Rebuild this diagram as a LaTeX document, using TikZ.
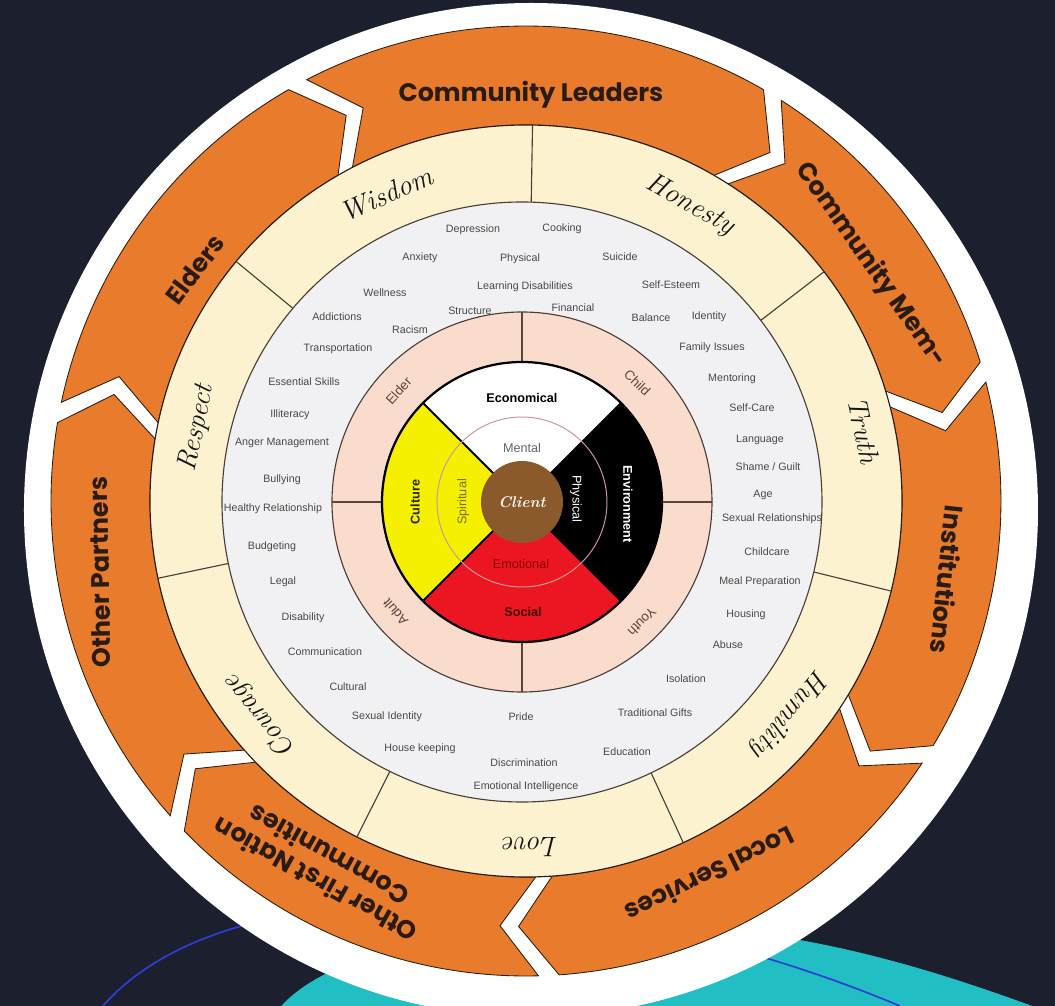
\documentclass[tikz,border=0pt]{standalone}
\usepackage{fontspec}
\setsansfont{Liberation Sans}
\newfontfamily\partnerfont{Poppins}
\usepackage{xcolor}
\usepackage{tikz}

\definecolor{navy}{HTML}{1C1F2E}
\definecolor{sea}{HTML}{21BFC3}
\definecolor{lineblue}{HTML}{2B3FD6}
\definecolor{ringorange}{HTML}{E87C2C}
\definecolor{cream}{HTML}{FCF2D0}
\definecolor{mist}{HTML}{F1F1F3}
\definecolor{peach}{HTML}{F9DCCB}
\definecolor{wheelred}{HTML}{EC1622}
\definecolor{wheelyellow}{HTML}{F5F000}
\definecolor{clientbrown}{HTML}{8B5A2C}
\definecolor{inkbrown}{HTML}{2A1C12}
\definecolor{stagebrown}{HTML}{5A4640}

\begin{document}
\begin{tikzpicture}[x=0.025cm,y=0.025cm,
  segment/.style={fill=ringorange,draw=inkbrown,line width=0.6pt},
  divider/.style={draw=inkbrown!85,line width=0.8pt},
  spoke/.style={draw=stagebrown,line width=0.9pt},
  partner/.style={font=\partnerfont\bfseries\fontsize{18}{20}\selectfont,text=inkbrown,align=center,inner sep=0pt},
  virtue/.style={font=\rmfamily\itshape\fontsize{20}{20}\selectfont,text=black!92,inner sep=0pt},
  issue/.style={font=\sffamily\fontsize{7.6}{8}\selectfont,text=black!72,inner sep=0pt},
  stage/.style={font=\sffamily\fontsize{9.5}{10}\selectfont,text=stagebrown,inner sep=0pt},
  aspect/.style={font=\sffamily\bfseries\fontsize{9}{10}\selectfont,inner sep=0pt},
  sense/.style={font=\sffamily\fontsize{9}{10}\selectfont,inner sep=0pt}]
\def\whitecircle{(5,-9) circle (507)}
\def\virtuering{(0,0) circle (376)}
\def\issuering{(0,0) circle (300)}
\def\stagering{(0,0) circle (190)}
\def\wheelring{(0,0) circle (140)}
  \fill[navy] (-526,-505) rectangle (529,501);
  \useasboundingbox (-526,-505) rectangle (529,501);
  \begin{scope}[shift={(-526,501)},yscale=-1]
    \fill[sea] (270,1020) .. controls (310,960) and (420,930) .. (620,925) .. controls (800,922) and (950,975) .. (1070,1020) -- cycle;
    \draw[lineblue,line width=1.2pt] (103,1006) .. controls (230,860) and (600,880) .. (900,1006);
  \end{scope}
  \fill[white] \whitecircle;
  \foreach \s/\e in {117.5/60,57.5/17,14.5/-31,-33.5/-86,-88.5/-136,-138.5/-189.5,-192/-240}
    \filldraw[segment] (\s:475) arc[start angle=\s,end angle=\e,radius=475] -- (\e-5:425.5) -- (\e:376) arc[start angle=\e,end angle=\s,radius=376] -- (\s-5:425.5) -- cycle;
  \filldraw[fill=cream,draw=inkbrown,line width=0.8pt] \virtuering;
  \foreach \k in {0,...,6}
    \draw[divider] ({89-\k*360/7}:295) -- ({89-\k*360/7}:376);
  \begin{scope}[shift={(-4,-1)}]
    \filldraw[fill=mist,draw=inkbrown!85,line width=0.8pt] \issuering;
    \filldraw[fill=peach,draw=inkbrown!85,line width=0.8pt] \stagering;
    \foreach \a in {0,90,180,270}
      \draw[spoke] (\a:140) -- (\a:190);
    \fill[white] (0,0) -- (45:140) arc[start angle=45,end angle=135,radius=140] -- cycle;
    \fill[black] (0,0) -- (-45:140) arc[start angle=-45,end angle=45,radius=140] -- cycle;
    \fill[wheelred] (0,0) -- (225:140) arc[start angle=225,end angle=315,radius=140] -- cycle;
    \fill[wheelyellow] (0,0) -- (135:140) arc[start angle=135,end angle=225,radius=140] -- cycle;
    \draw[black,line width=1.4pt] (135:140) -- (-45:140) (45:140) -- (225:140);
    \draw[black,line width=1.6pt] \wheelring;
    \draw[draw={rgb,255:red,205;green,150;blue,155},line width=0.7pt] (0,0) circle (85);
    \fill[clientbrown] (0,0) circle (41);
    \node[font=\rmfamily\itshape\bfseries\fontsize{11}{12}\selectfont,text=white!92!brown] (client) at (0,0) {Client};
    \node[aspect] (economical) at (0,104) {Economical};
    \node[sense,text=black!60] (mental) at (0,54) {Mental};
    \node[aspect,text=white,rotate=-90] (environment) at (106,-2) {Environment};
    \node[sense,text=white,rotate=-90] (physical) at (54,3) {Physical};
    \node[sense,text=red!55!black] (emotional) at (-1,-62) {Emotional};
    \node[aspect,text=red!25!black] (social) at (1,-110) {Social};
    \node[aspect,text=black!85,rotate=90] (culture) at (-107,0) {Culture};
    \node[sense,text=olive!80!black,rotate=90] (spiritual) at (-59,0) {Spiritual};
    \node[stage,rotate=48] (elder) at (138:166) {Elder};
    \node[stage,rotate=-44] (child) at (46:166) {Child};
    \node[stage,rotate=131] (adult) at (221:168) {Adult};
    \node[stage,rotate=225] (youth) at (315:170) {Youth};
  \end{scope}
  \begin{scope}[shift={(-526,501)},yscale=-1]
    \foreach \t/\x/\y [count=\i] in {Depression/473/230,Cooking/562/229,Anxiety/420/258,Physical/520/259,
      Suicide/620/257,Learning Disabilities/525/287,Self-Esteem/671/285,Wellness/385/293,Structure/470/311,
      Financial/573/308,Balance/651/318,Identity/709/317,Addictions/337/317,Racism/410/330,
      Transportation/338/349,Family Issues/712/348,Essential Skills/304/382,Mentoring/732/379,
      Illiteracy/290/415,Self-Care/752/408,Anger Management/282/443,Language/760/440,
      {Shame / Guilt}/768/467,Bullying/282/480,Age/763/495,Healthy Relationship/273/509,
      Sexual Relationships/772/519,Budgeting/272/547,Childcare/767/552,Legal/283/582,
      Meal Preparation/760/582,Disability/303/618,Housing/746/615,Communication/325/652,
      Abuse/728/645,Isolation/686/679,Cultural/348/687,Traditional Gifts/655/713,
      Sexual Identity/387/717,Pride/521/717,House keeping/420/749,Education/627/752,
      Discrimination/524/763,Emotional Intelligence/526/787}
      \node[issue] (issue\i) at (\x,\y) {\t};
  \end{scope}
  \node[virtue,rotate=24] (wisdom) at (114.5:337) {Wisdom};
  \node[virtue,rotate=-29] (honesty) at (61:338) {Honesty};
  \node[virtue,rotate=-78] (truth) at (11.8:345) {Truth};
  \node[virtue,rotate=-129] (humility) at (-39:338) {Humility};
  \node[virtue,rotate=180] (love) at (-89.3:346) {Love};
  \node[virtue,rotate=129] (courage) at (-141:342) {Courage};
  \node[virtue,rotate=78] (respect) at (167.5:337) {Respect};
  \node[partner] (leaders) at (89.3:406) {Community Leaders};
  \node[partner,rotate=-55] (members) at (34.4:418) {Community Mem-};
  \node[partner,rotate=-96] (institutions) at (-10.6:429) {Institutions};
  \node[partner,rotate=-154] (services) at (-63.8:417) {Local Services};
  \node[partner,rotate=151] (nations) at (-119.1:420) {Other First Nation\\Communities};
  \node[partner,rotate=91] (partners) at (-170.5:432) {Other Partners};
  \node[partner,rotate=53] (elders) at (145:404) {Elders};
\end{tikzpicture}
\end{document}
